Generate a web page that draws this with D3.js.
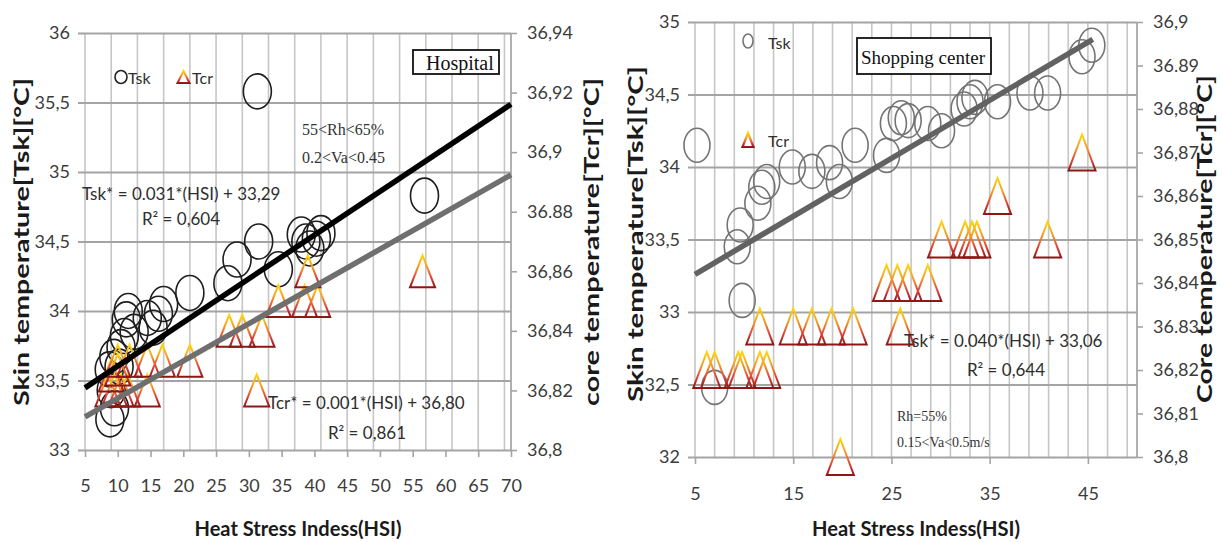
<!DOCTYPE html>
<html><head><meta charset="utf-8">
<script src="https://cdn.jsdelivr.net/npm/d3@7"></script>
<style>
html,body{margin:0;padding:0;background:#fff;}
svg{display:block;}
text{font-family:Lato,"Open Sans",sans-serif;}
.serif{font-family:"Liberation Serif","DejaVu Serif",serif;}
</style></head><body>
<svg id="chart" width="1222" height="542"></svg>
<script>
// ---- Hospital: skin temperature (circles) ----
const hospitalTskHSI = [8.8, 9.5, 9.0, 8.7, 9.4, 10.2, 10.5, 11.0, 11.3, 11.6, 12.5, 14.5, 15.4, 16.2, 17.0, 21.0, 26.8, 28.2, 31.5, 31.3, 34.5, 38.0, 38.7, 39.3, 40.3, 41.0, 56.8];
const hospitalTsk    = [33.22, 33.30, 33.43, 33.58, 33.67, 33.60, 33.74, 33.82, 33.94, 34.00, 33.85, 33.95, 33.88, 33.98, 34.05, 34.13, 34.20, 34.37, 34.50, 35.58, 34.30, 34.55, 34.50, 34.45, 34.52, 34.56, 34.83];
// ---- Hospital: core temperature (triangles) ----
const hospitalTcrHSI = [8.5, 9.5, 10.5, 11.5, 14.5, 9.0, 10.0, 10.0, 11.8, 14.5, 16.8, 21.0, 27.0, 29.0, 32.0, 31.2, 34.5, 38.5, 40.5, 39.0, 56.5];
const hospitalTcr    = [36.82, 36.82, 36.82, 36.82, 36.82, 36.825, 36.827, 36.83, 36.83, 36.83, 36.83, 36.83, 36.84, 36.84, 36.84, 36.82, 36.85, 36.85, 36.85, 36.86, 36.86];
// fitted lines [slope, intercept]
const hospitalTskFit = [0.0314, 33.29];
const hospitalTcrFit = [0.00125, 36.8049];

// ---- Shopping center: skin temperature ----
const shopTskHSI = [5.2, 7.0, 9.3, 9.6, 9.8, 11.4, 11.8, 12.3, 14.9, 16.9, 18.7, 19.7, 21.3, 24.5, 25.2, 26.0, 26.7, 28.7, 30.1, 32.4, 33.0, 33.5, 35.8, 39.1, 40.9, 44.4, 45.4];
const shopTsk    = [34.15, 32.48, 33.45, 33.60, 33.08, 33.75, 33.86, 33.90, 34.00, 33.97, 34.03, 33.90, 34.15, 34.08, 34.30, 34.34, 34.32, 34.30, 34.25, 34.40, 34.45, 34.48, 34.45, 34.51, 34.51, 34.76, 34.84];
// ---- Shopping center: core temperature ----
const shopTcrHSI = [6.2, 7.0, 9.4, 9.8, 11.6, 12.3, 11.6, 15.0, 16.9, 18.9, 21.1, 25.9, 24.5, 25.6, 26.7, 28.7, 30.1, 32.5, 33.2, 33.7, 40.9, 35.8, 44.4, 19.8];
const shopTcr    = [36.82, 36.82, 36.82, 36.82, 36.82, 36.82, 36.83, 36.83, 36.83, 36.83, 36.83, 36.83, 36.84, 36.84, 36.84, 36.84, 36.85, 36.85, 36.85, 36.85, 36.85, 36.86, 36.87, 36.80];
const shopTskFit = [0.040, 33.06];
const shopFitSpan = [5, 45.5];

// ---- tick values and labels ----
const hospitalXTicks = [5,10,15,20,25,30,35,40,45,50,55,60,65,70];
const hospitalXLabels = ["5","10","15","20","25","30","35","40","45","50","55","60","65","70"];
const hospitalTskTicks = [33,33.5,34,34.5,35,35.5,36];
const hospitalTskLabels = ["33","33,5","34","34,5","35","35,5","36"];
const hospitalTcrTicks = [36.80,36.82,36.84,36.86,36.88,36.90,36.92,36.94];
const hospitalTcrLabels = ["36,8","36,82","36,84","36,86","36.88","36,9","36,92","36,94"];

const shopXTicks = [5,15,25,35,45];
const shopXLabels = ["5","15","25","35","45"];
const shopTskTicks = [32,32.5,33,33.5,34,34.5,35];
const shopTskLabels = ["32","32,5","33","33,5","34","34,5","35"];
const shopTcrTicks = [36.80,36.81,36.82,36.83,36.84,36.85,36.86,36.87,36.88,36.89,36.90];
const shopTcrLabels = ["36,8","36,81","36,82","36.83","36,84","36,85","36,86","36,87","36,88","36.89","36,9"];

const svg = d3.select("#chart");
const defs = svg.append("defs");
const grad = defs.append("linearGradient").attr("id","triGrad")
  .attr("x1",0).attr("y1",0).attr("x2",0).attr("y2",1);
[[0,"#ffd60a"],[0.35,"#f5a023"],[0.7,"#e0443a"],[1,"#8e1515"]].forEach(([o,c]) =>
  grad.append("stop").attr("offset",o).attr("stop-color",c));

function triPath(cx, cy, w, h){
  return `M${cx},${cy-h/2}L${cx+w/2},${cy+h/2}L${cx-w/2},${cy+h/2}Z`;
}

function drawPanel(p){
  const g = svg.append("g");
  const x = d3.scaleLinear().domain(p.xDomain).range(p.xRange);
  const yL = d3.scaleLinear().domain(p.yLDomain).range(p.yRange);
  const yR = d3.scaleLinear().domain(p.yRDomain).range(p.yRange);
  const [x0,x1] = p.xRange, [yB,yT] = p.yRange;

  // vertical grid
  g.append("g").selectAll("line").data(d3.range(p.xDomain[0], p.xDomain[1], p.vStep)).join("line")
    .attr("x1",d=>x(d)).attr("x2",d=>x(d)).attr("y1",yT).attr("y2",yB)
    .attr("stroke","#c6c6c6").attr("stroke-width",1.6);
  // right border
  g.append("line").attr("x1",x1).attr("x2",x1).attr("y1",yT).attr("y2",yB)
    .attr("stroke","#a8a8a8").attr("stroke-width",1.8);

  // left axis (ticks double as horizontal grid)
  const axL = g.append("g").attr("transform",`translate(${x0},0)`)
    .call(d3.axisLeft(yL).tickValues(p.yLTicks).tickFormat((d,i)=>p.yLLabels[i])
      .tickSizeInner(-(x1-x0)).tickSizeOuter(0).tickPadding(15));
  axL.select(".domain").remove();
  axL.selectAll(".tick line").attr("x1",-7).attr("stroke","#a4a4a4").attr("stroke-width",2);
  axL.selectAll(".tick text").attr("font-size",18).attr("fill","#3c3c3c");

  // right axis
  const axR = g.append("g").attr("transform",`translate(${x1},0)`)
    .call(d3.axisRight(yR).tickValues(p.yRTicks).tickFormat((d,i)=>p.yRLabels[i])
      .tickSize(6).tickPadding(p.rPad));
  axR.select(".domain").remove();
  axR.selectAll(".tick line").attr("stroke","#a4a4a4").attr("stroke-width",1.6);
  axR.selectAll(".tick text").attr("font-size",18).attr("fill","#3c3c3c");

  // bottom axis
  const axB = g.append("g").attr("transform",`translate(0,${yB})`)
    .call(d3.axisBottom(x).tickValues(p.xTicks).tickFormat((d,i)=>p.xLabels[i])
      .tickSize(7).tickPadding(p.bPad));
  axB.select(".domain").remove();
  axB.selectAll(".tick line").attr("stroke","#a4a4a4").attr("stroke-width",1.6);
  axB.selectAll(".tick text").attr("font-size",18).attr("fill","#3c3c3c");

  // circles: skin temperature
  g.append("g").selectAll("ellipse").data(p.tskHSI).join("ellipse")
    .attr("cx",d=>x(d)).attr("cy",(d,i)=>yL(p.tsk[i]))
    .attr("rx",p.rx).attr("ry",p.ry)
    .attr("fill","none").attr("stroke",p.circleColor).attr("stroke-width",1.6);

  // triangles: core temperature
  g.append("g").selectAll("path").data(p.tcrHSI).join("path")
    .attr("d",(d,i)=>triPath(x(d), yR(p.tcr[i]), p.tw, p.th))
    .attr("fill","none").attr("stroke","url(#triGrad)").attr("stroke-width",2);

  // fitted lines
  p.fits.forEach(f => {
    const ys = f.axis === "L" ? yL : yR;
    g.append("line")
      .attr("x1",x(f.span[0])).attr("y1",ys(f.coef[0]*f.span[0]+f.coef[1]))
      .attr("x2",x(f.span[1])).attr("y2",ys(f.coef[0]*f.span[1]+f.coef[1]))
      .attr("stroke",f.color).attr("stroke-width",f.width).attr("stroke-linecap","butt");
  });

  // axis titles
  const title = (tx, ty, rot, txt, len) => g.append("text")
    .attr("transform",`translate(${tx},${ty}) rotate(${rot})`)
    .attr("text-anchor","middle").attr("dominant-baseline","central")
    .attr("font-size",20).attr("font-weight","bold").attr("fill","#1a1a1a")
    .attr("textLength",len).attr("lengthAdjust","spacingAndGlyphs").text(txt);
  title(p.tL[0], p.tL[1], -90, p.tL[2], p.tL[3]);
  title(p.tR[0], p.tR[1], -90, p.tR[2], p.tR[3]);
  title(p.tB[0], p.tB[1], 0, "Heat Stress Indess(HSI)", p.tB[2]);
  return {g, x, yL, yR};
}

// ---------- Hospital panel ----------
const H = drawPanel({
  xDomain:[5,70], xRange:[85,511], yLDomain:[33,36], yRDomain:[36.8,36.94], yRange:[450,33],
  vStep:4, yLTicks:hospitalTskTicks, yLLabels:hospitalTskLabels,
  yRTicks:hospitalTcrTicks, yRLabels:hospitalTcrLabels, rPad:10,
  xTicks:hospitalXTicks, xLabels:hospitalXLabels, bPad:22,
  tskHSI:hospitalTskHSI, tsk:hospitalTsk, tcrHSI:hospitalTcrHSI, tcr:hospitalTcr,
  rx:14, ry:17.5, tw:25, th:32, circleColor:"#1e1e1e",
  fits:[
    {axis:"R", coef:hospitalTcrFit, span:[5,70], color:"#6f6f6f", width:5.5},
    {axis:"L", coef:hospitalTskFit, span:[5,70], color:"#000", width:5.5}
  ],
  tL:[21,242,"Skin temperature[Tsk][°C]",328], tR:[591,242,"core temperature[Tcr][°C]",328], tB:[298,528,207]
});

// ---------- Shopping center panel ----------
const S = drawPanel({
  xDomain:[5,50], xRange:[695,1137], yLDomain:[32,35], yRDomain:[36.8,36.9], yRange:[457,22],
  vStep:2, yLTicks:shopTskTicks, yLLabels:shopTskLabels,
  yRTicks:shopTcrTicks, yRLabels:shopTcrLabels, rPad:10,
  xTicks:shopXTicks, xLabels:shopXLabels, bPad:23,
  tskHSI:shopTskHSI, tsk:shopTsk, tcrHSI:shopTcrHSI, tcr:shopTcr,
  rx:13, ry:17, tw:27, th:36, circleColor:"#747474",
  fits:[{axis:"L", coef:shopTskFit, span:shopFitSpan, color:"#626262", width:5.5}],
  tL:[635,234,"Skin temperature[Tsk][°C]",336], tR:[1204,239,"Core temperature[Tcr][°C]",328], tB:[916,528,208]
});

// ---------- annotations ----------
function label(tx, ty, txt, opts={}){
  return svg.append("text").attr("x",tx).attr("y",ty)
    .attr("dominant-baseline","central")
    .attr("text-anchor",opts.anchor||"start")
    .attr("font-size",opts.size||17).attr("fill",opts.fill||"#2e2e2e")
    .attr("class",opts.cls||null).text(txt);
}

// Hospital legend
svg.append("ellipse").attr("cx",121).attr("cy",77).attr("rx",6).attr("ry",6.5)
  .attr("fill","none").attr("stroke","#222").attr("stroke-width",1.6);
label(128,77,"Tsk",{size:16});
svg.append("path").attr("d",triPath(183.5,77,12,12)).attr("fill","none")
  .attr("stroke","url(#triGrad)").attr("stroke-width",2);
label(192,77,"Tcr",{size:16});

// Hospital box
svg.append("rect").attr("x",413).attr("y",50).attr("width",86).attr("height",24)
  .attr("fill","#fff").attr("stroke","#111").attr("stroke-width",1.8);
label(426,63,"Hospital",{size:20,cls:"serif",fill:"#111"});
label(302,129,"55<Rh<65%",{size:16,cls:"serif",fill:"#333"});
label(302,157,"0.2<Va<0.45",{size:16,cls:"serif",fill:"#333"});

label(82,193,"Tsk* = 0.031*(HSI) + 33,29");
label(181,218,"R² = 0,604",{anchor:"middle"});
label(268,402,"Tcr* = 0.001*(HSI) + 36,80");
label(367,432,"R² = 0,861",{anchor:"middle"});

// Shopping center legend
svg.append("ellipse").attr("cx",748).attr("cy",41).attr("rx",5).attr("ry",7)
  .attr("fill","none").attr("stroke","#777").attr("stroke-width",1.6);
label(768,42,"Tsk",{size:16});
svg.append("path").attr("d",triPath(748,140,11,14)).attr("fill","none")
  .attr("stroke","url(#triGrad)").attr("stroke-width",2.2);
label(768,140,"Tcr",{size:16});

svg.append("rect").attr("x",857).attr("y",38).attr("width",134).attr("height",36)
  .attr("fill","#fff").attr("stroke","#111").attr("stroke-width",1.8);
label(861,57,"Shopping center",{size:19,cls:"serif",fill:"#111"});

label(904,340,"Tsk* = 0.040*(HSI) + 33,06");
label(1006,369,"R² = 0,644",{anchor:"middle"});
label(897,416,"Rh=55%",{size:14,cls:"serif",fill:"#333"});
label(897,442,"0.15<Va<0.5m/s",{size:14,cls:"serif",fill:"#333"});
</script>
</body></html>
